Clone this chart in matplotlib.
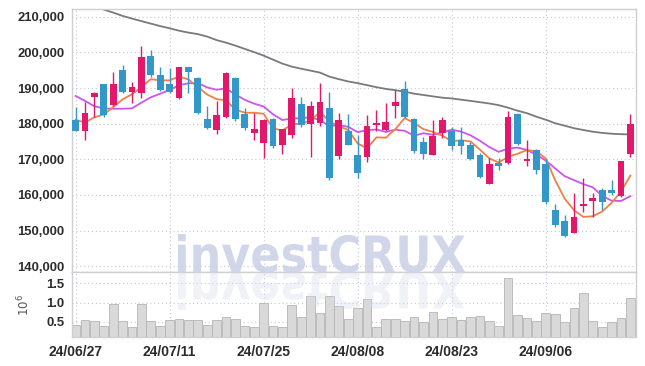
import numpy as np
import matplotlib
matplotlib.use("Agg")
import matplotlib.pyplot as plt
from matplotlib.textpath import TextPath
from matplotlib.patches import PathPatch
from matplotlib.font_manager import FontProperties
from matplotlib.transforms import Affine2D

# daily OHLC (KRW), 60 trading days from 24/06/27
opens = [181000, 178000, 187400, 191100, 185200, 195000, 188900, 188700, 199000, 193600,
         191100, 187250, 195800, 192900, 181450, 178200, 181900, 192700, 182700, 177400,
         174600, 181250, 174150, 176750, 185500, 180000, 180200, 184300, 171000, 178000,
         171150, 170600, 179700, 178200, 185000, 189700, 181250, 174800, 171350, 177400,
         178000, 175550, 174000, 171150, 163200, 169000, 169000, 182700, 169550, 172750,
         168600, 155900, 152600, 149350, 156900, 158350, 161300, 161300, 159650, 171600]
highs = [184700, 186000, 188800, 191200, 194600, 196600, 191700, 201900, 200800, 196000,
         195500, 196000, 195900, 193200, 184900, 186400, 194500, 193000, 184300, 182900,
         181200, 181500, 178600, 189900, 187500, 186400, 191300, 188900, 182900, 182700,
         176800, 182400, 183800, 185700, 189400, 191900, 181500, 176300, 181150, 181750,
         179000, 179100, 174900, 171800, 170500, 170500, 183600, 182900, 175550, 173000,
         170000, 157400, 154500, 160550, 164900, 160550, 162050, 164150, 169600, 182600]
lows = [178000, 175500, 182000, 182000, 185000, 188500, 185700, 187100, 193000, 189200,
        188500, 187000, 188700, 182700, 178500, 177000, 181500, 180800, 178200, 175500,
        170500, 173300, 171600, 176100, 179200, 170700, 179300, 164100, 170000, 173900,
        164800, 169200, 178000, 178000, 181500, 181500, 171800, 170200, 171200, 176100,
        172500, 171600, 169800, 164800, 163000, 166950, 168700, 174000, 168050, 166000,
        157400, 151000, 148200, 149200, 155250, 153800, 155700, 159900, 159400, 170700]
closes = [178000, 183000, 188700, 182400, 191100, 188900, 190300, 198600, 193600, 189400,
          188900, 195800, 194400, 183000, 178800, 182400, 194300, 181200, 178800, 178650,
          181000, 173700, 178400, 187350, 179600, 185100, 186050, 164800, 181000, 174150,
          166200, 179300, 180200, 180500, 186100, 181750, 172400, 171600, 176500, 181000,
          173800, 173800, 170000, 165050, 168600, 168150, 181750, 174250, 170200, 166950,
          158050, 151500, 148400, 153800, 157400, 159100, 158050, 160550, 169450, 180050]

# volume in millions
volumes = [0.42, 0.54, 0.51, 0.38, 0.96, 0.51, 0.36, 0.96, 0.51, 0.38,
           0.54, 0.56, 0.54, 0.54, 0.42, 0.54, 0.62, 0.56, 0.38, 0.36,
           0.98, 0.38, 0.36, 0.93, 0.62, 1.16, 0.72, 1.16, 0.90, 0.56,
           0.85, 1.09, 0.36, 0.56, 0.56, 0.51, 0.62, 0.49, 0.76, 0.56,
           0.62, 0.54, 0.62, 0.64, 0.51, 0.38, 1.63, 0.67, 0.59, 0.51,
           0.72, 0.69, 0.49, 0.85, 1.24, 0.51, 0.36, 0.49, 0.59, 1.11]

# moving averages
ma_short = [181100, 180300, 181800, 182600, 184640, 186820, 188280, 190260, 192500, 192160,
            192160, 193260, 192420, 190300, 188180, 186880, 186580, 183940, 183100, 183070,
            182790, 178670, 178110, 179820, 180010, 180830, 183300, 180580, 179310, 178220,
            174440, 173090, 176170, 176070, 178460, 181570, 180190, 178470, 177670, 176650,
            175060, 175340, 175020, 172730, 170250, 169120, 170710, 171560, 172590, 172260,
            170240, 164190, 159020, 155740, 153830, 154040, 155350, 157780, 160910, 165440]
ma_mid = [187800, 186400, 184900, 184300, 184200, 184200, 184300, 185900, 187400, 188400,
          189490, 190770, 191340, 191400, 190170, 189520, 189920, 188180, 186700, 185625,
          184835, 182625, 181025, 181460, 181540, 181810, 180985, 179345, 179565, 179115,
          177635, 178195, 178375, 177690, 178340, 178005, 176640, 177320, 176870, 177555,
          178315, 177765, 176745, 175200, 173450, 172090, 173025, 173290, 172660, 171255,
          169680, 167450, 165290, 164165, 163045, 162140, 159770, 158400, 158325, 159635]
ma_long = [np.nan, np.nan, 212900, 212020, 211180, 210250, 209490, 208790, 208090, 207390,
           206770, 206100, 205560, 205140, 204440, 203460, 202750, 201910, 200980, 200080,
           199100, 197980, 196850, 196010, 195420, 194890, 194330, 193200, 192500, 191850,
           191380, 190810, 190250, 189750, 189410, 188960, 188430, 188060, 187670, 187300,
           187080, 186740, 186400, 186040, 185670, 185200, 184490, 183650, 182950, 181970,
           181120, 180140, 179440, 178740, 178230, 177750, 177420, 177190, 177050, 177000]

tick_pos = [0, 10, 20, 30, 40, 50]
tick_labels = ["24/06/27", "24/07/11", "24/07/25", "24/08/08", "24/08/23", "24/09/06"]
price_ticks = [140000, 150000, 160000, 170000, 180000, 190000, 200000, 210000]
vol_ticks = [0.5, 1.0, 1.5]

UP = "#e4186a"
DOWN = "#3397c9"
GRID = "#c3c8dc"
TEXT = "#2b2b2b"
label_font = ["Liberation Sans", "DejaVu Sans"]

W, H = 645, 366
fig = plt.figure(figsize=(W / 100, H / 100), dpi=100)
left, right = 71.5, 636
ax = fig.add_axes([left / W, 1 - 272.3 / H, (right - left) / W, (272.3 - 9.3) / H])
axv = fig.add_axes([left / W, 1 - 337 / H, (right - left) / W, (337 - 272.3) / H], sharex=ax)

x = np.arange(len(closes))
o = np.array(opens)
c = np.array(closes)
colors = [UP if cc >= oo else DOWN for oo, cc in zip(o, c)]

ax.plot(x, ma_long, color="#7a7a7a", lw=1.3, zorder=2)
ax.plot(x, ma_mid, color="#cc55ee", lw=1.3, zorder=2)
ax.plot(x, ma_short, color="#ef8047", lw=1.3, zorder=2)
ax.vlines(x, lows, highs, colors=colors, lw=1.0, zorder=3)
ax.bar(x, np.abs(c - o), bottom=np.minimum(o, c), width=0.72, color=colors, zorder=4)

ax.set_xlim(-0.43, 59.6)
ax.set_ylim(138300, 212100)
ax.set_yticks(price_ticks)
ax.set_yticklabels([f"{p:,}" for p in price_ticks])

axv.bar(x, volumes, width=0.93, color="#d9d9d9", edgecolor="#b5b5b5", lw=0.6, zorder=2)
axv.set_ylim(0.1, 1.79)
axv.set_yticks(vol_ticks)
axv.set_yticklabels(["0.5", "1.0", "1.5"])
axv.set_xticks(tick_pos)
axv.set_xticklabels(tick_labels)
axv.set_ylabel(r"$10^6$", fontsize=8.5, color="#555555", labelpad=10)

for a in (ax, axv):
    a.grid(True, color=GRID, lw=0.8, linestyle=(0, (1, 2.5)))
    a.set_axisbelow(True)
    for s in a.spines.values():
        s.set_color("#cfcfcf")
        s.set_linewidth(1.0)
    a.tick_params(length=0, pad=5, labelcolor=TEXT)
    for t in a.get_yticklabels():
        t.set_family(label_font)
        t.set_fontsize(9.4)
        t.set_fontweight("bold")
for t in axv.get_xticklabels():
    t.set_family(label_font)
    t.set_fontsize(10)
    t.set_fontweight("bold")
ax.tick_params(labelbottom=False)
axv.tick_params(axis="x", pad=6)

# watermark with reflection, placed in pixel coordinates
fp = FontProperties(family="DejaVu Sans", weight="bold")
tp = TextPath((0, 0), "investCRUX", size=40, prop=fp)
bb = tp.get_extents()
sx = (465 - 178) / bb.width
sy = (272 - 234) / bb.y1
base = H - 272
wm = Affine2D().translate(-bb.x0, 0).scale(sx, sy).translate(178, base)
fig.add_artist(PathPatch(tp, transform=wm, fc="#c9cfe6", ec="none", alpha=0.85, zorder=5))
refl = Affine2D().translate(-bb.x0, 0).scale(sx, -sy).translate(178, base)
fig.add_artist(PathPatch(tp, transform=refl, fc="#d6daec", ec="none", alpha=0.35, zorder=5))

fig.savefig("out.png", dpi=100)
